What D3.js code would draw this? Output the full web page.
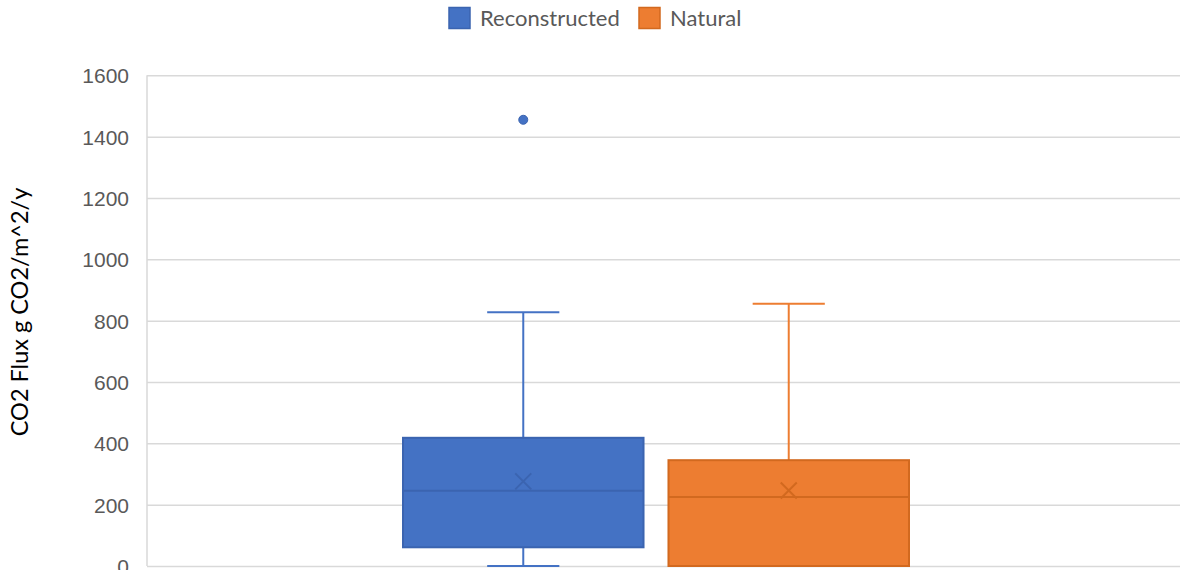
<!DOCTYPE html>
<html>
<head>
<meta charset="utf-8">
<script src="https://cdn.jsdelivr.net/npm/d3@7"></script>
<style>
  html, body { margin: 0; padding: 0; background: #ffffff; }
  svg { display: block; font-family: Lato, "Open Sans", sans-serif; }
</style>
</head>
<body>
<svg id="chart" width="1182" height="570"></svg>
<script>
// Box-and-whisker summary of annual CO2 flux by site type
const seriesNames = ["Reconstructed", "Natural"];
const seriesColors = ["#4472C4", "#ED7D31"];
const seriesStrokes = ["#3B64B0", "#D2691F"];
const whiskerMin = [0, 0];
const q1 = [61, 0];
const median = [245, 225];
const q3 = [418, 345];
const whiskerMax = [827, 855];
const means = [276, 246];
const outliers = [[1455], []];
const yTicks = [0, 200, 400, 600, 800, 1000, 1200, 1400, 1600];
const yTitle = "CO2 Flux g CO2/m^2/y";

const svg = d3.select("#chart");
const plot = { left: 147, right: 1180, top: 75.3, bottom: 566 };

const y = d3.scaleLinear().domain([0, 1600]).range([plot.bottom, plot.top]);
const x = d3.scaleBand().domain(seriesNames).range([403, 909]).paddingInner(0.094).paddingOuter(0);

// gridlines and tick labels
const yAxis = d3.axisLeft(y).tickValues(yTicks).tickFormat(d3.format("d"))
  .tickSize(-(plot.right - plot.left)).tickPadding(18);
const gAxis = svg.append("g").attr("transform", `translate(${plot.left},0)`).call(yAxis);
gAxis.select(".domain").remove();
gAxis.selectAll(".tick line").attr("stroke", "#D9D9D9").attr("stroke-width", 1.5);
gAxis.selectAll(".tick text")
  .attr("fill", "#595959")
  .style("font-size", "21px")
  .attr("dy", "0.36em");

// vertical axis line
svg.append("line")
  .attr("x1", plot.left).attr("x2", plot.left)
  .attr("y1", plot.top).attr("y2", plot.bottom)
  .attr("stroke", "#D9D9D9").attr("stroke-width", 1.5);

// axis title
svg.append("text")
  .attr("transform", `translate(28,312) rotate(-90)`)
  .attr("text-anchor", "middle")
  .attr("fill", "#000000")
  .style("font-size", "23.5px")
  .text(yTitle);

// boxes
seriesNames.forEach((name, i) => {
  const g = svg.append("g");
  const x0 = x(name);
  const bw = x.bandwidth();
  const cx = x0 + bw / 2;
  const capW = bw * 0.3;
  const fill = seriesColors[i];
  const stroke = seriesStrokes[i];

  // whiskers
  g.append("line").attr("x1", cx).attr("x2", cx)
    .attr("y1", y(whiskerMax[i])).attr("y2", y(q3[i]))
    .attr("stroke", fill).attr("stroke-width", 2);
  g.append("line").attr("x1", cx - capW / 2).attr("x2", cx + capW / 2)
    .attr("y1", y(whiskerMax[i])).attr("y2", y(whiskerMax[i]))
    .attr("stroke", fill).attr("stroke-width", 2);
  if (q1[i] > whiskerMin[i]) {
    g.append("line").attr("x1", cx).attr("x2", cx)
      .attr("y1", y(q1[i])).attr("y2", y(whiskerMin[i]))
      .attr("stroke", fill).attr("stroke-width", 2);
    g.append("line").attr("x1", cx - capW / 2).attr("x2", cx + capW / 2)
      .attr("y1", y(whiskerMin[i])).attr("y2", y(whiskerMin[i]))
      .attr("stroke", fill).attr("stroke-width", 2);
  }

  // box
  g.append("rect")
    .attr("x", x0).attr("width", bw)
    .attr("y", y(q3[i])).attr("height", y(q1[i]) - y(q3[i]))
    .attr("fill", fill).attr("stroke", stroke).attr("stroke-width", 2);

  // median
  g.append("line").attr("x1", x0).attr("x2", x0 + bw)
    .attr("y1", y(median[i])).attr("y2", y(median[i]))
    .attr("stroke", stroke).attr("stroke-width", 2);

  // mean marker
  const m = 8;
  const my = y(means[i]);
  g.append("path")
    .attr("d", `M${cx - m},${my - m}L${cx + m},${my + m}M${cx - m},${my + m}L${cx + m},${my - m}`)
    .attr("stroke", stroke).attr("stroke-width", 2).attr("fill", "none");

  // outliers
  outliers[i].forEach(v => {
    g.append("circle").attr("cx", cx).attr("cy", y(v)).attr("r", 4.5)
      .attr("fill", fill).attr("stroke", stroke).attr("stroke-width", 1);
  });
});

// legend
const legendX = [449, 639];
const legend = svg.append("g");
seriesNames.forEach((name, i) => {
  legend.append("rect")
    .attr("x", legendX[i]).attr("y", 7.5).attr("width", 21).attr("height", 21)
    .attr("fill", seriesColors[i]).attr("stroke", seriesStrokes[i]).attr("stroke-width", 1.5);
  legend.append("text")
    .attr("x", legendX[i] + 31).attr("y", 25.5)
    .attr("fill", "#595959")
    .style("font-size", "22px")
    .text(name);
});
</script>
</body>
</html>
